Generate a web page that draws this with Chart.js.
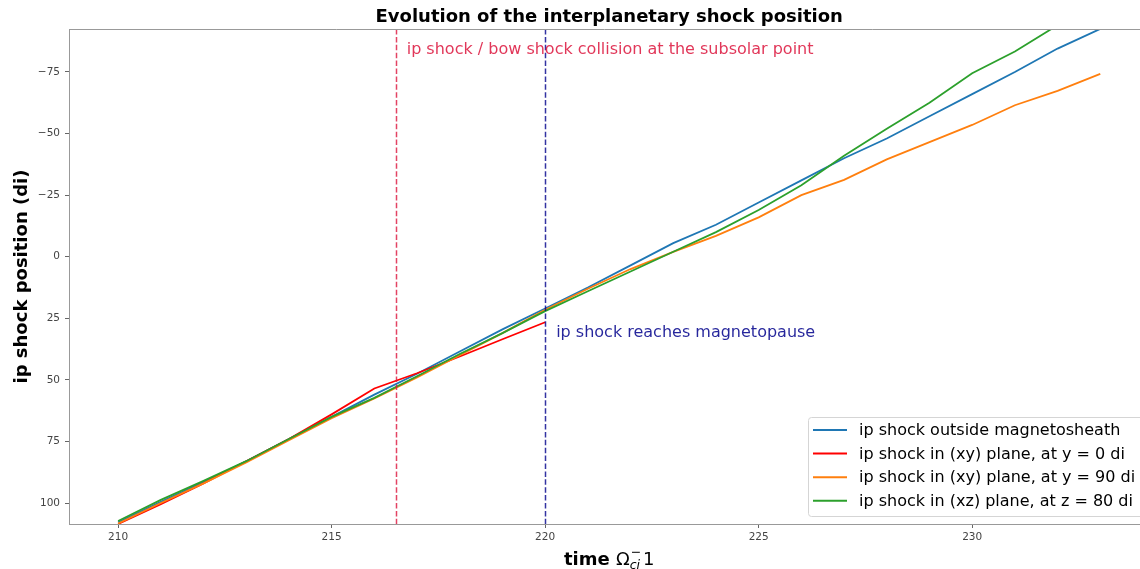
<!DOCTYPE html>
<html>
<head>
<meta charset="utf-8">
<script src="https://cdn.jsdelivr.net/npm/chart.js@4/dist/chart.umd.min.js"></script>
<style>
  html, body { margin: 0; padding: 0; background: #ffffff; }
  #wrap { width: 1140px; height: 569px; position: relative; }
</style>
</head>
<body>
<div id="wrap"><canvas id="c" width="1140" height="569"></canvas></div>
<script>
// ---- data ----
const timesFull = [210,211,212,213,214,215,216,217,218,219,220,221,222,223,224,225,226,227,228,229,230,231,232,233];
const timesRed = [210,211,212,213,214,215,216,217,218,219,220];
const timesGreen = [210,211,212,213,214,215,216,217,218,219,220,221,222,223,224,225,226,227,228,229,230,231,232];

const outsideSheath = [107.8,99.5,91.5,83,74,65,56,47.5,38.5,29.5,21,12.5,3.5,-5.5,-13,-22,-31,-40,-48,-57,-66,-75,-84.5,-92.5];
const xyPlaneY0 = [108.5,100.5,92,83,74,64,53.5,47.3,40.5,33.5,26.6];
const xyPlaneY90 = [108.3,100,92,83.5,74.5,65.5,57.5,49,40,31,21.5,13,5,-2,-8.5,-16,-25,-31.2,-39.5,-46.5,-53.5,-61.5,-67.3,-74.2];
const xzPlaneZ80 = [107.3,98.7,91,83,74,65,57.3,48.5,39.5,31,22.1,14,6,-2,-10,-19,-29,-41,-52,-62.5,-74.5,-83.3,-94];

const seriesLabels = [
  'ip shock outside magnetosheath',
  'ip shock in (xy) plane, at y = 0 di',
  'ip shock in (xy) plane, at y = 90 di',
  'ip shock in (xz) plane, at z = 80 di'
];

const xTicks = [210, 215, 220, 225, 230];
const yTicks = [-75, -50, -25, 0, 25, 50, 75, 100];

const collisionTime = 216.5;
const magnetopauseTime = 220;
const collisionText = 'ip shock / bow shock collision at the subsolar point';
const magnetopauseText = 'ip shock reaches magnetopause';
const titleText = 'Evolution of the interplanetary shock position';
const yTitleText = 'ip shock position (di)';

// ---- build datasets ----
function pts(t, v) { return t.map((x, i) => ({ x: x, y: v[i] })); }
const colors = ['#1f77b4', '#ff0000', '#ff7f0e', '#2ca02c'];
const seriesData = [
  pts(timesFull, outsideSheath),
  pts(timesRed, xyPlaneY0),
  pts(timesFull, xyPlaneY90),
  pts(timesGreen, xzPlaneZ80)
];
const datasets = seriesData.map((d, i) => ({
  label: seriesLabels[i],
  data: d,
  borderColor: colors[i],
  backgroundColor: colors[i],
  borderWidth: 1.8,
  pointRadius: 0,
  tension: 0,
  fill: false,
  order: 3 - i
}));

const FONT = "'DejaVu Sans', sans-serif";

const decorations = {
  id: 'decorations',
  afterDatasetsDraw(chart) {
    const ctx = chart.ctx, a = chart.chartArea, xs = chart.scales.x;
    ctx.save();
    ctx.beginPath();
    ctx.rect(a.left, a.top, a.right - a.left, a.bottom - a.top);
    ctx.clip();
    ctx.lineWidth = 1.5;
    ctx.setLineDash([5.5, 2.4]);
    const drawV = (t, col) => {
      const x = Math.round(xs.getPixelForValue(t)) + 0.5;
      ctx.strokeStyle = col;
      ctx.beginPath();
      ctx.moveTo(x, a.top);
      ctx.lineTo(x, a.bottom);
      ctx.stroke();
    };
    drawV(collisionTime, 'rgba(220,20,60,0.8)');
    drawV(magnetopauseTime, 'rgba(0,0,139,0.8)');
    ctx.restore();
  },
  afterDraw(chart) {
    const ctx = chart.ctx, a = chart.chartArea, xs = chart.scales.x;
    ctx.save();
    // top spine
    ctx.strokeStyle = '#999';
    ctx.lineWidth = 1;
    ctx.beginPath();
    ctx.moveTo(a.left, a.top + 0.5);
    ctx.lineTo(chart.width, a.top + 0.5);
    ctx.stroke();

    // annotations
    ctx.font = '16px ' + FONT;
    ctx.textBaseline = 'middle';
    ctx.textAlign = 'left';
    ctx.fillStyle = 'rgba(220,20,60,0.85)';
    ctx.fillText(collisionText, xs.getPixelForValue(collisionTime) + 11, 50);
    ctx.fillStyle = 'rgba(0,0,139,0.85)';
    ctx.fillText(magnetopauseText, xs.getPixelForValue(magnetopauseTime) + 11, 333);

    // title
    const cx = (a.left + xs.getPixelForValue(234.15)) / 2;
    ctx.fillStyle = '#000';
    ctx.font = 'bold 18px ' + FONT;
    ctx.textAlign = 'center';
    ctx.textBaseline = 'middle';
    ctx.fillText(titleText, cx, 17);

    // y title
    ctx.save();
    ctx.translate(22, (a.top + a.bottom) / 2);
    ctx.rotate(-Math.PI / 2);
    ctx.fillText(yTitleText, 0, 0);
    ctx.restore();

    // x title: "time Ω_ci^- 1"
    const base = 565;
    const parts = [
      { t: 'time ', f: 'bold 18px ' + FONT, dy: 0 },
      { t: 'Ω', f: '18px ' + FONT, dy: 0 },
      { t: 'ci', f: 'italic 12.5px ' + FONT, dy: 4 },
      { t: '1', f: '18px ' + FONT, dy: 0 }
    ];
    ctx.textAlign = 'left';
    ctx.textBaseline = 'alphabetic';
    let total = 0;
    parts.forEach(p => { ctx.font = p.f; p.w = ctx.measureText(p.t).width; total += p.w; });
    total += 3;
    let x = cx - total / 2;
    parts.forEach(p => {
      ctx.font = p.f;
      ctx.fillText(p.t, x, base + p.dy);
      if (p.t === 'ci') {
        ctx.font = '12.5px ' + FONT;
        ctx.fillText('\u2212', x + 1, base - 9);
        x += p.w + 3;
      } else {
        x += p.w;
      }
    });

    // legend
    const lx = 808, ly = 417, lw = 345, lh = 99;
    ctx.fillStyle = 'rgba(255,255,255,0.85)';
    ctx.strokeStyle = '#d5d5d5';
    ctx.lineWidth = 1;
    ctx.beginPath();
    if (ctx.roundRect) ctx.roundRect(lx + 0.5, ly + 0.5, lw, lh, 3); else ctx.rect(lx + 0.5, ly + 0.5, lw, lh);
    ctx.fill();
    ctx.stroke();
    ctx.font = '16px ' + FONT;
    ctx.textBaseline = 'middle';
    chart.data.datasets.forEach((ds, i) => {
      const yy = 430 + i * 23.6;
      ctx.strokeStyle = ds.borderColor;
      ctx.lineWidth = 2;
      ctx.beginPath();
      ctx.moveTo(813, yy);
      ctx.lineTo(847, yy);
      ctx.stroke();
      ctx.fillStyle = '#000';
      ctx.fillText(ds.label, 859, yy + 1);
    });
    ctx.restore();
  }
};

new Chart(document.getElementById('c'), {
  type: 'line',
  data: { datasets: datasets },
  options: {
    responsive: false,
    devicePixelRatio: 1,
    animation: false,
    events: [],
    layout: { padding: { top: 29, left: 0, right: 0, bottom: 0 } },
    plugins: { legend: { display: false }, title: { display: false }, tooltip: { enabled: false } },
    scales: {
      x: {
        type: 'linear',
        min: 208.85,
        max: 233.93,
        afterFit(s) { s.height = 45; },
        afterBuildTicks(s) { s.ticks = xTicks.map(v => ({ value: v })); },
        grid: { drawOnChartArea: false, drawTicks: true, tickLength: 4, tickColor: '#666' },
        border: { display: true, color: '#999', width: 1 },
        ticks: { color: '#444', font: { family: FONT, size: 10.5 }, padding: 3, maxRotation: 0, autoSkip: false }
      },
      y: {
        type: 'linear',
        reverse: true,
        min: -92.45,
        max: 108.5,
        afterFit(s) { s.width = 69; },
        afterBuildTicks(s) { s.ticks = yTicks.map(v => ({ value: v })); },
        grid: { drawOnChartArea: false, drawTicks: true, tickLength: 4, tickColor: '#666' },
        border: { display: true, color: '#999', width: 1 },
        ticks: {
          color: '#444', font: { family: FONT, size: 10.5 }, padding: 5, autoSkip: false,
          callback: v => String(v).replace('-', '\u2212')
        }
      }
    }
  },
  plugins: [decorations]
});
</script>
</body>
</html>
